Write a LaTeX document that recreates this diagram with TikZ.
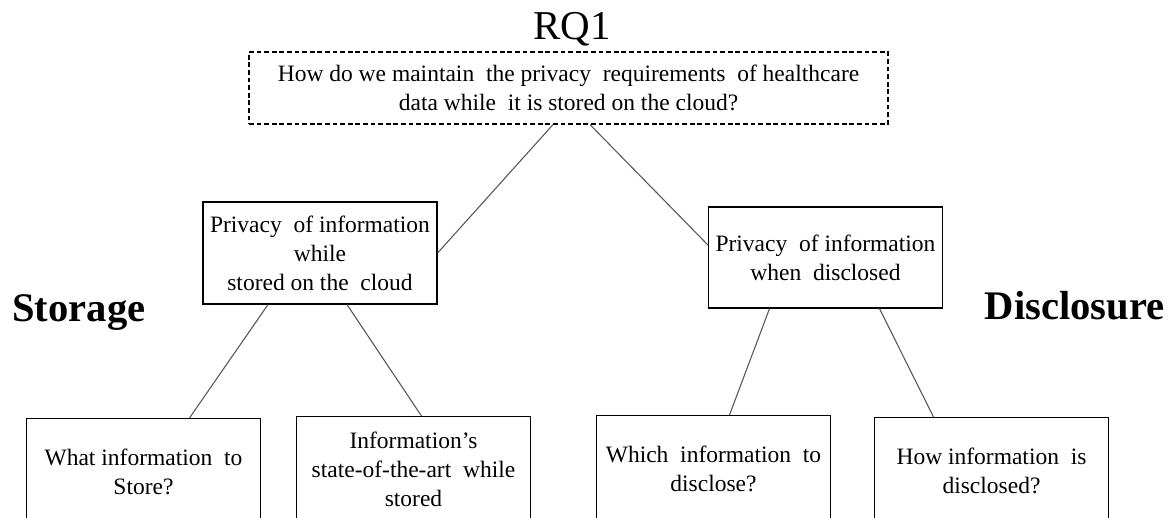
\documentclass[tikz,border=0pt]{standalone}
\usepackage{fontspec}
\setmainfont{Liberation Serif}
\usetikzlibrary{positioning}

\begin{document}
\begin{tikzpicture}[x=0.5pt, y=-0.5pt,
    qbox/.style={draw, line width=0.6pt, align=center, inner sep=0pt,
        minimum width=117pt, font=\fontsize{11.75}{14.5}\selectfont},
    link/.style={draw=black!65, line width=0.55pt},
    side/.style={inner sep=0pt, font=\fontsize{20.3}{24}\selectfont\bfseries}]
    \useasboundingbox (0,0) rectangle (1174,518);

    % question
    \node[inner sep=0pt, anchor=base, font=\fontsize{20.5}{24}\selectfont] (rqone) at (572,40) {RQ1};
    \node[qbox, dash pattern=on 2.4pt off 1.4pt, minimum width=319.5pt, minimum height=36pt] (rq) at (568.5,88)
        {How do we maintain\ \ the privacy\ \ requirements\ \ of healthcare\\data while\ \ it is stored on the cloud?};

    % two branches
    \node[qbox, minimum height=51pt] (storq) at (320,253)
        {Privacy\ \ of information\\while\\stored on the\ \ cloud};
    \node[qbox, minimum height=50.5pt] (discq) at (825.5,257.5)
        {Privacy\ \ of information\\when\ \ disclosed};
    \node[side, anchor=base west] (storage) at (12,322) {Storage};
    \node[side, anchor=base east] (disclosure) at (1165,320) {Disclosure};

    % leaves (cut at the bottom)
    \node[qbox, anchor=north, minimum height=53pt] (what) at (143.5,418)
        {What information\ \ to\\Store?};
    \node[qbox, anchor=north, minimum height=53pt] (state) at (413.5,416)
        {Information’s\\state-of-the-art\ \ while\\stored};
    \node[qbox, anchor=north, minimum height=53pt] (which) at (713.5,415)
        {Which\ \ information\ \ to\\disclose?};
    \node[qbox, anchor=north, minimum height=53pt] (how) at (991.5,417)
        {How information\ \ is\\disclosed?};

    \draw[link] ([xshift=-7.75pt]rq.south) -- (storq.east);
    \draw[link] ([xshift=10.75pt]rq.south) -- ([yshift=6.25pt]discq.west);
    \draw[link] ([xshift=-26pt]storq.south) -- ([xshift=23pt]what.north);
    \draw[link] ([xshift=13.5pt]storq.south) -- ([xshift=4pt]state.north);
    \draw[link] ([xshift=-28pt]discq.south) -- ([xshift=8pt]which.north);
    \draw[link] ([xshift=27pt]discq.south) -- ([xshift=-29pt]how.north);
\end{tikzpicture}
\end{document}
